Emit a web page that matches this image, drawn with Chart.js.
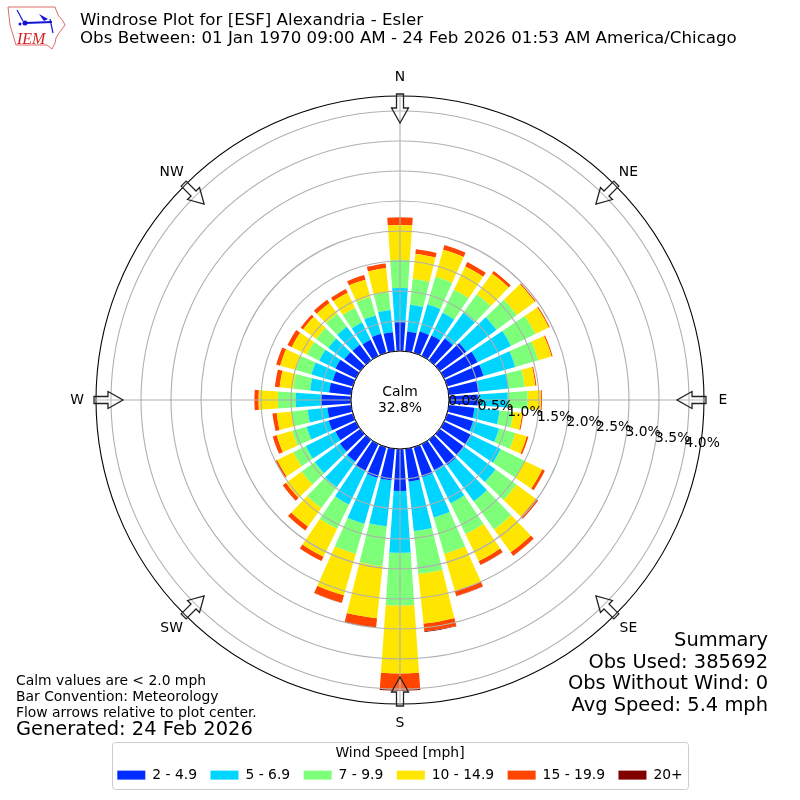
<!DOCTYPE html>
<html>
<head>
<meta charset="utf-8">
<title>Windrose Plot</title>
<script src="https://cdn.jsdelivr.net/npm/chart.js@4"></script>
<style>
  body { margin: 0; background: #fff; }
  #wrap { position: relative; width: 800px; height: 800px; }
</style>
</head>
<body>
<div id="wrap"><canvas id="rose" width="800" height="800"></canvas></div>
<script>
// direction bins, clockwise from north (percent of all obs per speed class)
const directions = ["0","10","20","30","40","50","60","70","80","90","100","110","120","130","140","150","160","170","180","190","200","210","220","230","240","250","260","270","280","290","300","310","320","330","340","350"];
const speed2to5 = [.48,.33,.37,.38,.45,.55,.62,.63,.50,.48,.43,.45,.50,.50,.52,.48,.52,.55,.70,.53,.53,.50,.45,.42,.38,.42,.40,.50,.37,.35,.38,.33,.32,.30,.33,.32];
const speed5to7 = [.57,.45,.47,.42,.53,.62,.62,.55,.50,.50,.42,.45,.55,.65,.75,.62,.70,.83,1.03,.77,.80,.62,.53,.52,.55,.38,.33,.42,.32,.37,.30,.33,.37,.32,.32,.37];
const speed7to10 = [.47,.43,.48,.43,.38,.42,.45,.40,.27,.33,.23,.28,.45,.43,.58,.57,.63,.72,.88,.67,.52,.45,.43,.27,.23,.25,.27,.30,.28,.27,.23,.25,.27,.27,.32,.30];
const speed10to15 = [.58,.42,.47,.43,.43,.37,.25,.23,.18,.22,.15,.20,.32,.40,.47,.50,.65,.83,1.13,.87,.72,.52,.38,.32,.30,.27,.25,.32,.23,.27,.28,.27,.22,.28,.30,.40];
const speed15to20 = [.13,.08,.08,.08,.05,.02,.02,.02,.02,.02,.02,.03,.05,.05,.07,.07,.08,.13,.27,.15,.13,.08,.08,.07,.03,.07,.07,.07,.08,.07,.08,.05,.07,.07,.08,.08];
const speed20plus = [0,0,0,0,0,0,0,0,0,0,0,0,0,0,.005,.005,.005,.01,.02,.01,.005,0,0,0,0,0,0,0,0,0,0,0,0,0,0,0];

const speedLabels = ["2 - 4.9","5 - 6.9","7 - 9.9","10 - 14.9","15 - 19.9","20+"];
const speedColors = ["#002cff","#00d5ff","#7dff7a","#ffe600","#ff4500","#800000"];
const speedSeries = [speed2to5, speed5to7, speed7to10, speed10to15, speed15to20, speed20plus];

const tickValues = [0,.5,1,1.5,2,2.5,3,3.5,4];
const tickLabels = ["0.0%","0.5%","1.0%","1.5%","2.0%","2.5%","3.0%","3.5%","4.0%"];
const compassLabels = ["N","NE","E","SE","S","SW","W","NW"];

const axisMin = -0.8167;
const axisMax = 4.25;
const barDegrees = 8;
const tickLabelAngle = 100;
const fontFamily = "'DejaVu Sans'";

const titleLines = ["Windrose Plot for [ESF] Alexandria - Esler", "Obs Between: 01 Jan 1970 09:00 AM - 24 Feb 2026 01:53 AM America/Chicago"];
const summaryLines = ["Summary", "Obs Used: 385692", "Obs Without Wind: 0", "Avg Speed: 5.4 mph"];
const noteLines = ["Calm values are < 2.0 mph", "Bar Convention: Meteorology", "Flow arrows relative to plot center."];
const generatedLine = "Generated: 24 Feb 2026";
const calmLines = ["Calm", "32.8%"];

// polar area bars, but stacked on the previous speed class and narrower than their bin
class WindRoseController extends Chart.PolarAreaController {
  updateElements(arcs, start, count, mode) {
    super.updateElements(arcs, start, count, mode);
    const scale = this._cachedMeta.rScale;
    const half = (barDegrees / 2) * Math.PI / 180;
    const datasets = this.chart.data.datasets;
    for (let i = start; i < start + count; i++) {
      let base = 0;
      for (let d = 0; d < this.index; d++) base += datasets[d].data[i];
      const top = base + datasets[this.index].data[i];
      const mid = scale.getIndexAngle(i) - Math.PI / 2;
      arcs[i].startAngle = mid - half;
      arcs[i].endAngle = mid + half;
      arcs[i].innerRadius = scale.getDistanceFromCenterForValue(base);
      arcs[i].outerRadius = scale.getDistanceFromCenterForValue(top);
    }
  }
}
WindRoseController.id = "windrose";
Chart.register(WindRoseController);

Chart.defaults.font.family = fontFamily;
Chart.defaults.color = "#000";

function drawText(ctx, text, x, y, size, align, baseline) {
  ctx.font = size + "px " + fontFamily;
  ctx.fillStyle = "#000";
  ctx.textAlign = align || "left";
  ctx.textBaseline = baseline || "middle";
  ctx.fillText(text, x, y);
}

function drawArrow(ctx, cx, cy, degrees) {
  ctx.save();
  ctx.translate(cx, cy);
  ctx.rotate(degrees * Math.PI / 180);
  ctx.beginPath();
  ctx.moveTo(-3.5, -306);
  ctx.lineTo(3.5, -306);
  ctx.lineTo(3.5, -292);
  ctx.lineTo(8.5, -292);
  ctx.lineTo(0, -277);
  ctx.lineTo(-8.5, -292);
  ctx.lineTo(-3.5, -292);
  ctx.closePath();
  ctx.fillStyle = "rgba(255,255,255,0.15)";
  ctx.strokeStyle = "#222";
  ctx.lineWidth = 1.3;
  ctx.fill();
  ctx.stroke();
  ctx.restore();
}

function drawLogo(ctx) {
  ctx.save();
  ctx.beginPath();
  ctx.moveTo(8, 7);
  ctx.lineTo(55, 7);
  ctx.lineTo(58, 15);
  ctx.lineTo(63, 21);
  ctx.lineTo(65, 25);
  ctx.lineTo(59, 33);
  ctx.lineTo(56, 38);
  ctx.lineTo(55, 43);
  ctx.lineTo(52, 49);
  ctx.lineTo(47, 45);
  ctx.lineTo(16, 45);
  ctx.lineTo(10, 25);
  ctx.closePath();
  ctx.strokeStyle = "#e06a6a";
  ctx.lineWidth = 1;
  ctx.stroke();
  ctx.strokeStyle = "#1414d8";
  ctx.fillStyle = "#1414d8";
  ctx.lineWidth = 2;
  ctx.beginPath();
  ctx.moveTo(25, 23);
  ctx.lineTo(52, 22);
  ctx.stroke();
  ctx.lineWidth = 1.2;
  ctx.beginPath();
  ctx.moveTo(17, 10);
  ctx.lineTo(23, 21);
  ctx.moveTo(50, 19);
  ctx.lineTo(53, 33);
  ctx.stroke();
  ctx.beginPath();
  ctx.arc(25, 23, 2.5, 0, Math.PI * 2);
  ctx.arc(20, 24, 1.5, 0, Math.PI * 2);
  ctx.fill();
  ctx.beginPath();
  ctx.moveTo(39, 14);
  ctx.lineTo(48, 19);
  ctx.lineTo(44, 21);
  ctx.closePath();
  ctx.fill();
  ctx.font = "italic 16px 'Liberation Serif'";
  ctx.fillStyle = "#d42020";
  ctx.textAlign = "left";
  ctx.textBaseline = "alphabetic";
  ctx.fillText("IEM", 17, 44);
  ctx.restore();
}

const roseDecorations = {
  id: "roseDecorations",
  beforeDraw(chart) {
    const ctx = chart.ctx;
    ctx.save();
    ctx.fillStyle = "#fff";
    ctx.strokeStyle = "#ccc";
    ctx.lineWidth = 1;
    ctx.beginPath();
    ctx.roundRect(112.5, 742.5, 576, 47, 3);
    ctx.fill();
    ctx.stroke();
    ctx.restore();
  },
  afterDraw(chart) {
    const ctx = chart.ctx;
    const scale = chart.scales.r;
    const cx = scale.xCenter;
    const cy = scale.yCenter;
    const hole = scale.getDistanceFromCenterForValue(0);
    ctx.save();

    ctx.beginPath();
    ctx.arc(cx, cy, hole, 0, Math.PI * 2);
    ctx.fillStyle = "#fff";
    ctx.fill();
    ctx.strokeStyle = "#000";
    ctx.lineWidth = 1;
    ctx.stroke();

    compassLabels.forEach((label, i) => drawArrow(ctx, cx, cy, i * 45));

    compassLabels.forEach((label, i) => {
      const a = i * 45 * Math.PI / 180;
      const r = scale.drawingArea + 19;
      drawText(ctx, label, cx + r * Math.sin(a), cy - r * Math.cos(a) + 0.5, 13.89, "center");
    });

    const ta = tickLabelAngle * Math.PI / 180;
    tickValues.forEach((value, i) => {
      const r = scale.getDistanceFromCenterForValue(value);
      drawText(ctx, tickLabels[i], cx + r * Math.sin(ta), cy - r * Math.cos(ta), 13.89, "left", "bottom");
    });

    drawText(ctx, calmLines[0], cx, 392, 13.89, "center");
    drawText(ctx, calmLines[1], cx, 408, 13.89, "center");

    titleLines.forEach((line, i) => drawText(ctx, line, 80, 21 + i * 18, 16.67));
    summaryLines.forEach((line, i) => drawText(ctx, line, 768, 641 + i * 21.7, 19.44, "right"));
    noteLines.forEach((line, i) => drawText(ctx, line, 16, 681 + i * 16, 13.89));
    drawText(ctx, generatedLine, 16, 730, 19.44);
    drawLogo(ctx);
    ctx.restore();
  }
};

new Chart(document.getElementById("rose"), {
  type: "windrose",
  data: {
    labels: directions,
    datasets: speedSeries.map((values, i) => ({
      label: speedLabels[i],
      data: values,
      backgroundColor: speedColors[i],
      borderWidth: 0
    }))
  },
  options: {
    responsive: false,
    animation: false,
    events: [],
    layout: { padding: { top: 96, left: 96, right: 96, bottom: 8 } },
    scales: {
      r: {
        min: axisMin,
        max: axisMax,
        startAngle: 0,
        afterBuildTicks: (scale) => {
          scale.ticks = tickValues.concat([axisMax]).map((value) => ({ value }));
        },
        ticks: { display: false },
        grid: {
          z: 1,
          circular: true,
          color: (ctx) => (ctx.tick.value === axisMax ? "#000" : "#b0b0b0"),
          lineWidth: 1.1
        },
        angleLines: {
          display: true,
          color: "#b0b0b0",
          lineWidth: (ctx) => (ctx.index % 9 === 0 ? 1.1 : 0)
        },
        pointLabels: { display: false }
      }
    },
    plugins: {
      tooltip: { enabled: false },
      legend: {
        position: "bottom",
        maxHeight: 88,
        title: {
          display: true,
          text: "Wind Speed [mph]",
          font: { size: 13.89 },
          padding: { top: 42, bottom: -8 }
        },
        labels: {
          font: { size: 13.89 },
          boxWidth: 28,
          boxHeight: 9,
          padding: 13.5,
          generateLabels: (chart) => chart.data.datasets.map((ds, i) => ({
            text: ds.label,
            fillStyle: ds.backgroundColor,
            strokeStyle: ds.backgroundColor,
            lineWidth: 0,
            datasetIndex: i
          }))
        }
      }
    }
  },
  plugins: [roseDecorations]
});
</script>
</body>
</html>
